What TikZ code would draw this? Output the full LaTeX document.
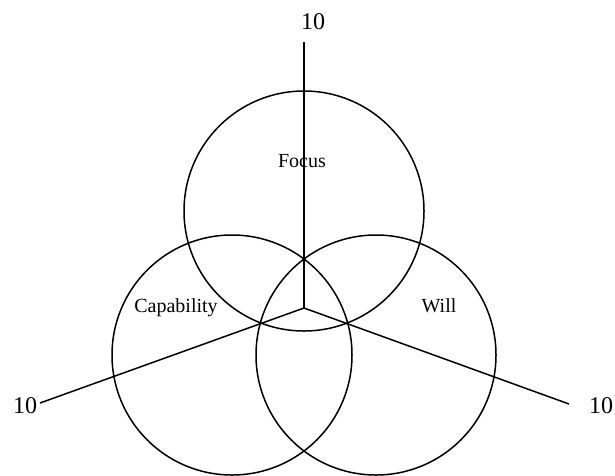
\documentclass[tikz,border=0pt]{standalone}
\usepackage{fontspec}
\setmainfont{Liberation Serif}
\begin{document}
\begin{tikzpicture}[x=1pt,y=-1pt,
  ring/.style={draw,circle,line width=1.5pt,minimum size=240pt,inner sep=0pt,outer sep=0pt},
  axis/.style={line width=1.5pt},
  lbl/.style={anchor=base,inner sep=0pt,font=\fontsize{20}{24}\selectfont},
  num/.style={anchor=base,inner sep=0pt,font=\fontsize{24}{28}\selectfont}]
\useasboundingbox (0,0) rectangle (615,475);
\node[ring] (cfocus) at (304,211) {};
\node[ring] (ccap) at (232,355) {};
\node[ring] (cwill) at (376,355) {};
\coordinate (o) at (304,308);
\coordinate (etop) at (304,42);
\coordinate (eleft) at (40,403);
\coordinate (eright) at (569,404);
\draw[axis] (o) -- (etop);
\draw[axis] (o) -- (eleft);
\draw[axis] (o) -- (eright);
\node[num] (ntop) at (313,29) {10};
\node[num] (nleft) at (25,413) {10};
\node[num] (nright) at (601,413) {10};
\node[lbl] (lfocus) at (302,167) {Focus};
\node[lbl] (lcap) at (176,312) {Capability};
\node[lbl] (lwill) at (439,312) {Will};
\end{tikzpicture}
\end{document}
